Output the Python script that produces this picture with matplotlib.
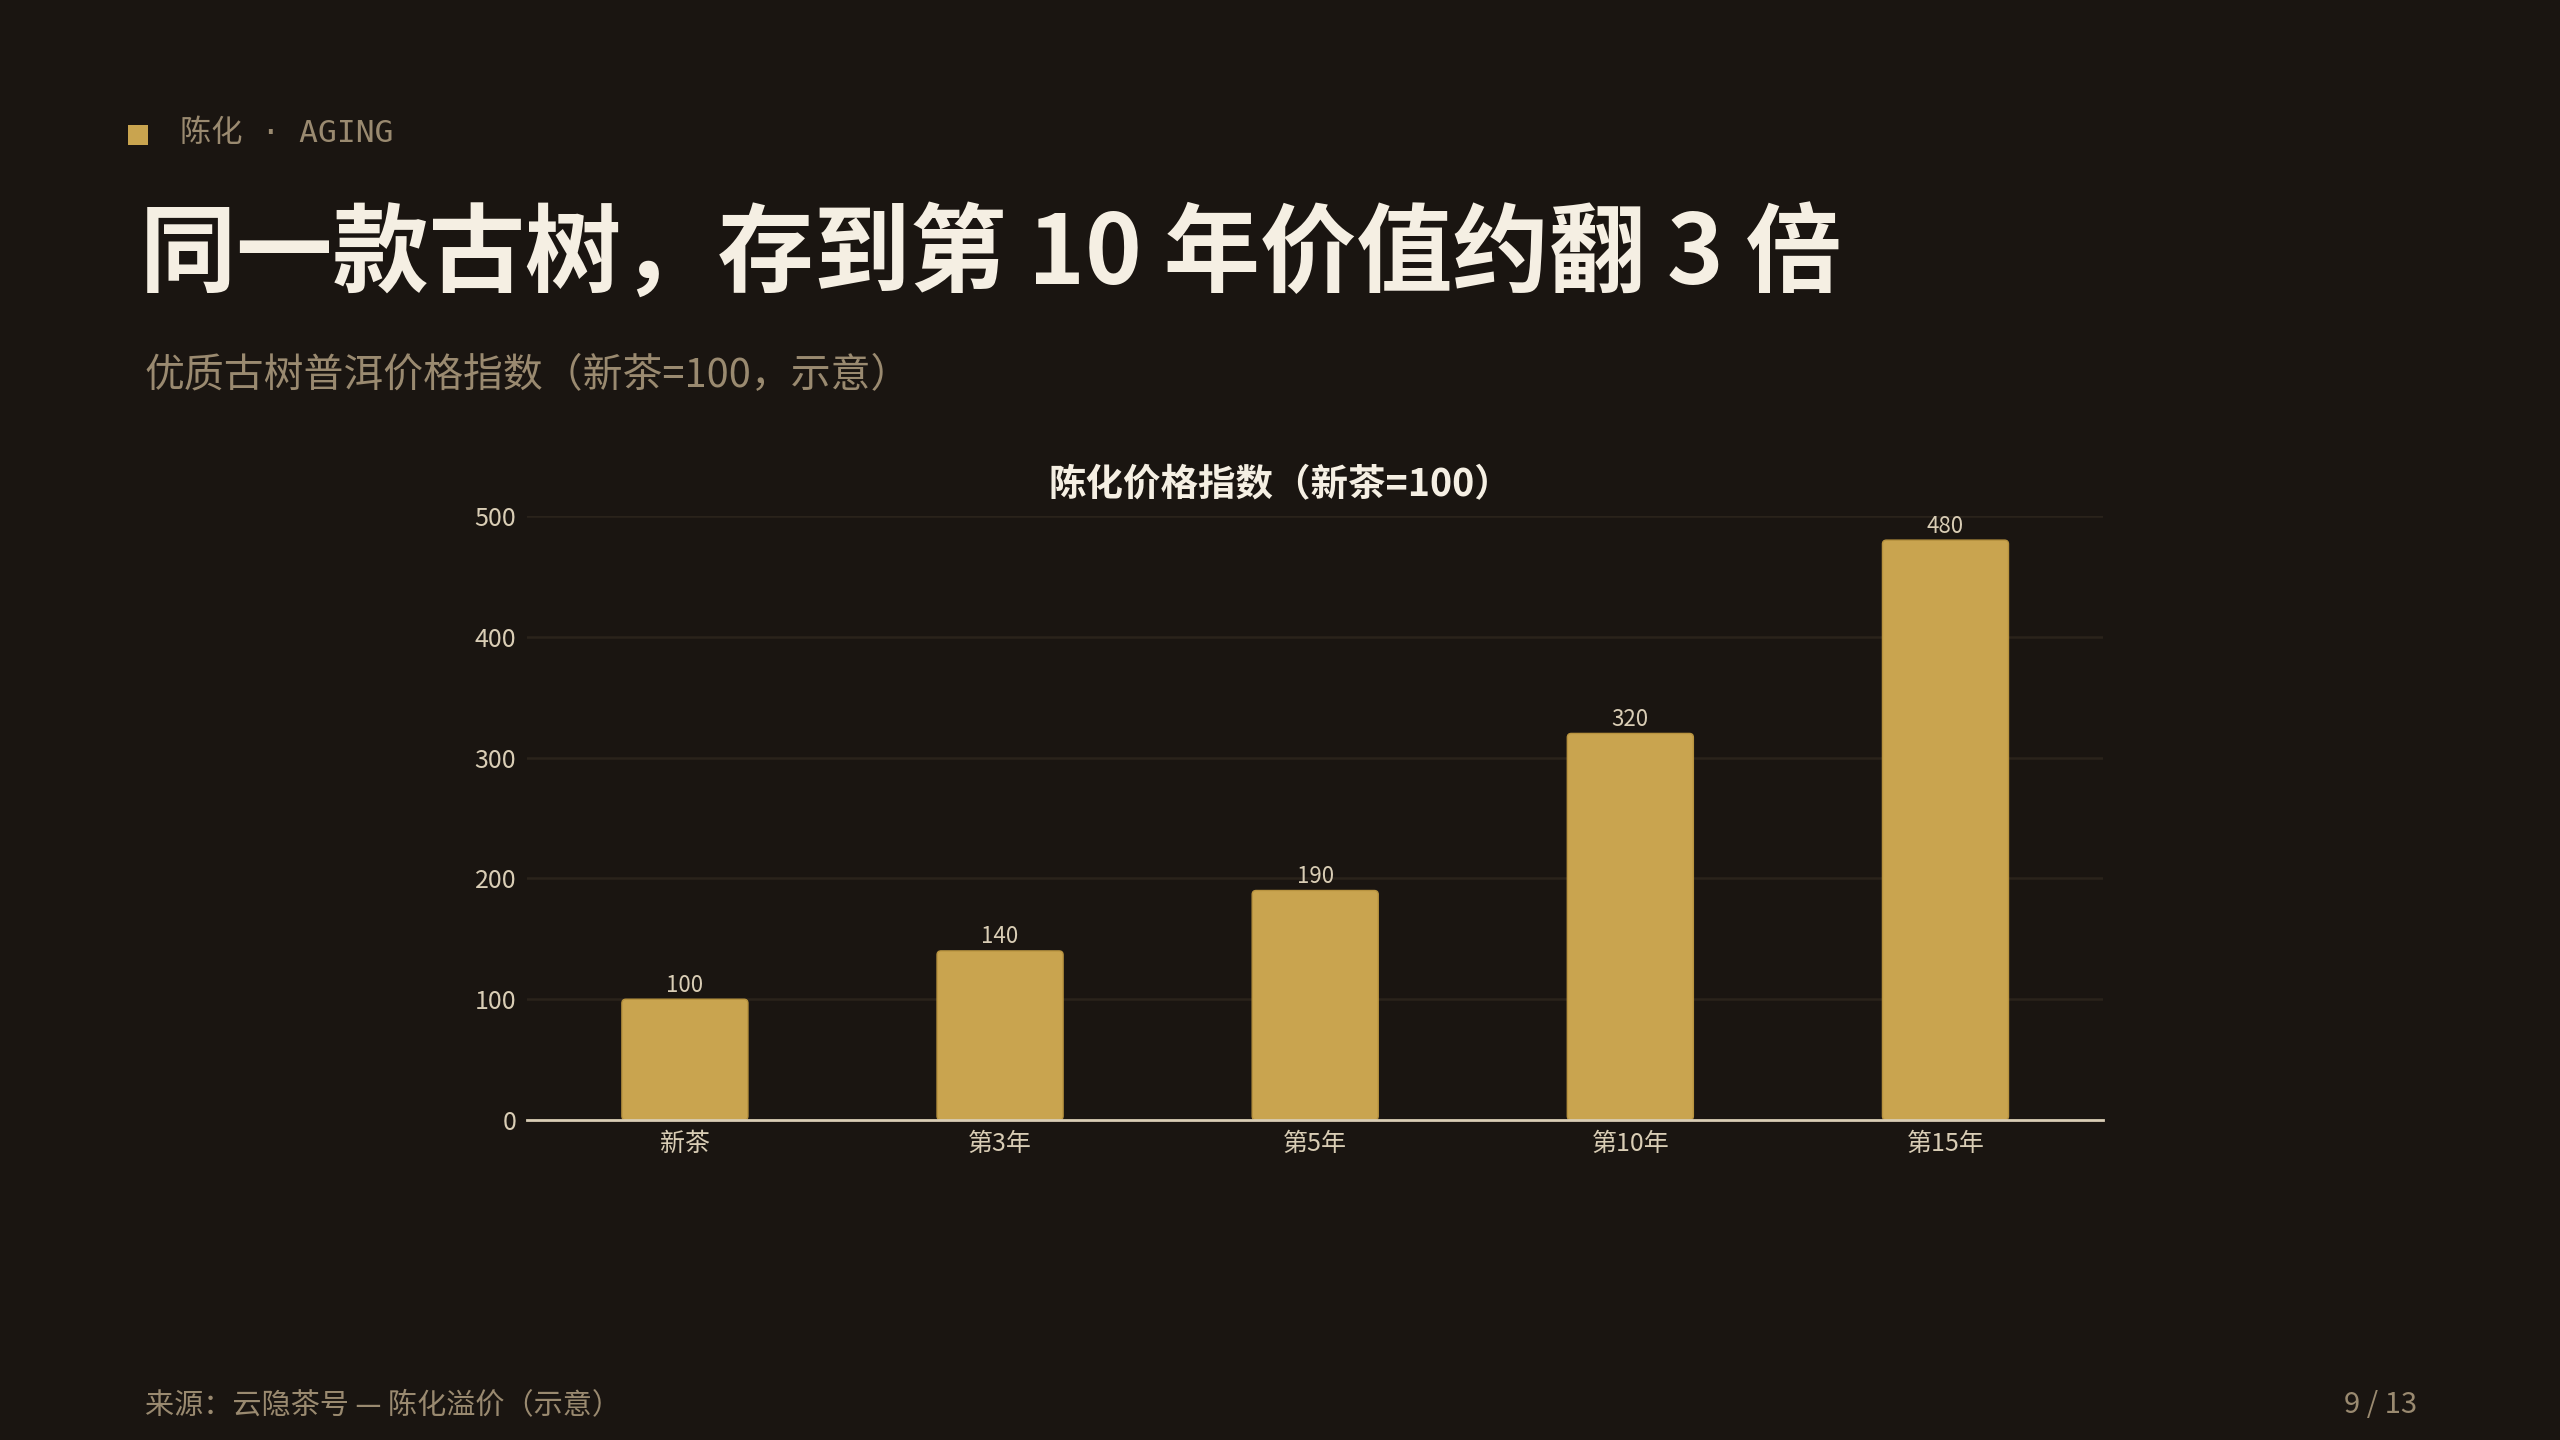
import matplotlib.pyplot as plt
from matplotlib.patches import Rectangle, FancyBboxPatch

plt.rcParams['font.family'] = ['Noto Sans CJK SC', 'DejaVu Sans']

categories = ["新茶", "第3年", "第5年", "第10年", "第15年"]
values = [100, 140, 190, 320, 480]
yticks = [0, 100, 200, 300, 400, 500]

bg = "#1a1511"
gold = "#c9a44f"
muted = "#9a8a70"
light = "#d9cdb5"
white = "#f5efe3"
grid = "#2a231b"

fig = plt.figure(figsize=(25.6, 14.4), dpi=100, facecolor=bg)
ax = fig.add_axes([0.206, 0.2222, 0.6155, 0.4195], facecolor=bg)

ax.set_xlim(-0.5, len(categories) - 0.5)
ax.set_ylim(0, 500)

# pixel aspect so the corner rounding looks circular
px_per_x = 0.6155 * 2560 / len(categories)
px_per_y = 0.4195 * 1440 / 500
aspect = px_per_x / px_per_y

bar_w = 0.4
for i, v in enumerate(values):
    ax.add_patch(FancyBboxPatch((i - bar_w / 2, 0), bar_w, v,
                                boxstyle="round,pad=0,rounding_size=%f" % (4 / px_per_x),
                                mutation_aspect=aspect,
                                facecolor=gold, edgecolor="#b8933f", linewidth=1.0))
    ax.text(i, v + 2, str(v), ha="center", va="bottom", fontsize=16, color=light)

ax.set_xticks(range(len(categories)))
ax.set_xticklabels(categories, fontsize=18, color=light)
ax.set_yticks(yticks)
ax.set_yticklabels([str(t) for t in yticks], fontsize=18, color=light)
ax.tick_params(length=0, pad=8)
ax.grid(axis="y", color=grid, linewidth=1.8)
ax.set_axisbelow(True)
for s in ["top", "right", "left"]:
    ax.spines[s].set_visible(False)
ax.spines["bottom"].set_color(light)
ax.spines["bottom"].set_linewidth(2)
ax.spines["bottom"].set_zorder(5)

# header
fig.patches.append(Rectangle((128 / 2560, 1 - 145 / 1440), 20 / 2560, 20 / 1440,
                             transform=fig.transFigure, facecolor=gold, edgecolor="none"))
fig.text(0.0703, 0.907, "陈化 · AGING", fontsize=22.5, color=muted, va="center",
         family=["DejaVu Sans Mono", "Noto Sans CJK SC"])
fig.text(0.0547, 0.822, "同一款古树，存到第 10 年价值约翻 3 倍", fontsize=69.3,
         fontweight="bold", color=white, va="center")
fig.text(0.0566, 0.7385, "优质古树普洱价格指数（新茶=100，示意）", fontsize=28.7,
         color=muted, va="center")
fig.text(0.5, 0.6635, "陈化价格指数（新茶=100）", fontsize=27, fontweight="bold",
         color=white, ha="center", va="center")

# footer
fig.text(0.0566, 0.0245, "来源：云隐茶号 — 陈化溢价（示意）", fontsize=21, color=muted, va="center")
fig.text(0.944, 0.0245, "9 / 13", fontsize=21, color=muted, va="center", ha="right")

fig.savefig("out.png", dpi=100, facecolor=bg)
